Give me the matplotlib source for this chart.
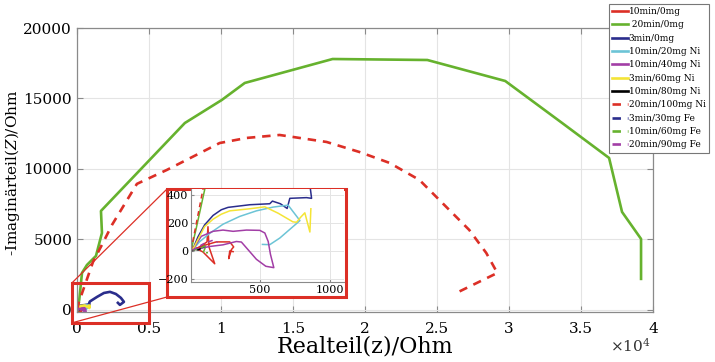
import matplotlib
matplotlib.use("Agg")
import matplotlib.pyplot as plt
from matplotlib.patches import Rectangle, ConnectionPatch
from matplotlib.ticker import FuncFormatter

plt.rcParams['font.family'] = ['DejaVu Serif']
plt.rcParams['mathtext.fontset'] = 'dejavuserif'

# ---------------- data (Ohm) ----------------
labels = ["10min/0mg", " 20min/0mg", "3min/0mg", "10min/20mg Ni", "10min/40mg Ni",
          "3min/60mg Ni", "10min/80mg Ni", "20min/100mg Ni", "3min/30mg Fe",
          "10min/60mg Fe", "20min/90mg Fe"]

red_x = [20, 71, 124, 131, 138, 179, 95, 48, 107, 190, 286, 314, 298, 279, 286, 310]
red_y = [4, 27, 63, 172, 27, -94, -9, 15, 39, 63, 63, 27, 8, -57, -2, -7]

green_x = [10, 45, 110, 160, 347, 693, 1317, 1733, 1664, 7490, 10050, 11650, 17750,
           24330, 29740, 33690, 36950, 37850, 39170, 39170]
green_y = [0, 150, 450, 750, 2624, 3190, 3830, 5460, 7020, 13260, 14890, 16100, 17800,
           17730, 16240, 13260, 10780, 6950, 5035, 2200]

blue_x = [20, 60, 107, 167, 226, 274, 429, 571, 590, 647, 695, 714, 833, 869, 852,
          900, 1390, 1870, 2290, 2700, 3050, 3260, 2980, 2840]
blue_y = [4, 100, 185, 253, 294, 311, 330, 337, 356, 337, 303, 376, 381, 376, 511,
          600, 920, 1200, 1280, 1130, 850, 570, 355, 500]

cyan_x = [20, 71, 143, 238, 357, 476, 595, 702, 786, 643, 571, 519]
cyan_y = [4, 64, 124, 190, 246, 286, 313, 327, 216, 91, 43, 45]

purple_x = [20, 83, 167, 238, 310, 405, 500, 536, 560, 576, 600, 543, 476, 369, 333,
            238, 143, 48]
purple_y = [4, 103, 139, 148, 139, 148, 146, 127, 66, -26, -122, -112, -62, 62, 66,
            42, 30, 11]

yellow_x = [20, 60, 107, 167, 226, 286, 429, 536, 631, 736, 762, 791, 821, 857, 864]
yellow_y = [4, 81, 173, 226, 262, 286, 301, 315, 269, 207, 204, 240, 272, 134, 301]

black_x = [15, 40, 60, 75]
black_y = [0, 10, 5, 12]

red_d_x = [10, 95, 1110, 1800, 2430, 4160, 6240, 9910, 11785, 14070, 17330, 19620,
           21700, 23780, 25650, 27240, 28420, 29190, 26340]
red_d_y = [0, 440, 3400, 4750, 6030, 8940, 9930, 11840, 12200, 12410, 11915, 11200,
           10430, 9220, 7300, 5670, 4040, 2620, 1200]

blue_d_x = [20, 60, 100, 125]
blue_d_y = [4, 15, 25, 45]

green_d_x = [20, 71, 119, 95, 131]
green_d_y = [4, 15, 39, -18, -14]

purple_d_x = [20, 100, 160, 200]
purple_d_y = [4, 50, 73, 60]

xticks = [0, 5000, 10000, 15000, 20000, 25000, 30000, 35000, 40000]
yticks = [0, 5000, 10000, 15000, 20000]
inset_xticks = [500, 1000]
inset_yticks = [-200, 0, 200, 400]

# ---------------- styles ----------------
C_RED = '#dc2f26'
C_GREEN = '#66b22e'
C_BLUE = '#2a2d8c'
C_CYAN = '#6cc4d6'
C_PURPLE = '#a23ea6'
C_YELLOW = '#f4e436'
C_BLACK = '#000000'
DASH = (0, (3.2, 2.6))

series = [
    (red_x, red_y, C_RED, '-'),
    (green_x, green_y, C_GREEN, '-'),
    (blue_x, blue_y, C_BLUE, '-'),
    (cyan_x, cyan_y, C_CYAN, '-'),
    (purple_x, purple_y, C_PURPLE, '-'),
    (yellow_x, yellow_y, C_YELLOW, '-'),
    (black_x, black_y, C_BLACK, '-'),
    (red_d_x, red_d_y, C_RED, DASH),
    (blue_d_x, blue_d_y, C_BLUE, DASH),
    (green_d_x, green_d_y, C_GREEN, DASH),
    (purple_d_x, purple_d_y, C_PURPLE, DASH),
]

fig = plt.figure(figsize=(7.15, 3.62), dpi=100)
ax = fig.add_axes([77/715, 50/362, 576/715, 284/362])

GRID = '#e4e4e4'
SPINE = '#8a8a8a'

handles = []
for (xs, ys, c, ls), lab in zip(series, labels):
    h, = ax.plot(xs, ys, color=c, ls=ls, lw=1.9, label=lab)
    handles.append(h)

ax.set_xlim(0, 40000)
ax.set_ylim(-150, 20000)
ax.set_xticks(xticks)
ax.set_yticks(yticks)
ax.xaxis.set_major_formatter(FuncFormatter(lambda v, p: ('%g' % (v / 1e4))))
ax.grid(True, color=GRID, lw=0.8)
ax.set_axisbelow(True)
ax.tick_params(direction='in', top=True, right=True, length=4, color=SPINE,
               labelsize=11, width=0.8)
ax.tick_params(axis='x', pad=7)
for s in ax.spines.values():
    s.set_color(SPINE)
    s.set_linewidth(0.9)

ax.set_xlabel('Realteil(z)/Ohm', fontsize=16, labelpad=0)
ax.set_ylabel('-Imaginärteil($Z$)/Ohm', fontsize=11)
ax.yaxis.set_label_coords(-0.095, 0.49)
fig.text(651/715, 1 - 346/362, r'$\times10^{4}$', ha='right', va='center',
         fontsize=11, color='#333333')

leg = ax.legend(handles=handles, loc='upper left',
                bbox_to_anchor=(609/715, 1 - 4/362), bbox_transform=fig.transFigure,
                fontsize=6.5, frameon=True, fancybox=False, framealpha=1,
                edgecolor='#777777', borderpad=0.35, labelspacing=0.48,
                handlelength=1.7, handletextpad=0.15, borderaxespad=0)
leg.get_frame().set_linewidth(0.8)
leg.set_zorder(10)

# zoom rectangle in main axes
rect = Rectangle((-350, -920), 5340, 2835, fill=False, edgecolor=C_RED, lw=2.2,
                 clip_on=False, zorder=6)
ax.add_patch(rect)

# inset frame (white with red border)
fx0, fy0, fw, fh = 167/715, 65/362, 179/715, 108/362
frame = Rectangle((fx0, fy0), fw, fh, transform=fig.transFigure, facecolor='white',
                  edgecolor=C_RED, lw=2.2, zorder=1)
fig.patches.append(frame)

for ya, yb in [(1915, fy0 + fh), (-920, fy0)]:
    con = ConnectionPatch(xyA=(-350, ya), coordsA=ax.transData,
                          xyB=(fx0, yb), coordsB=fig.transFigure,
                          color=C_RED, lw=0.9, zorder=7)
    fig.add_artist(con)

axin = fig.add_axes([191/715, 80/362, 153/715, 93/362])
axin.set_zorder(3)
for (xs, ys, c, ls) in series:
    axin.plot(xs, ys, color=c, ls=ls, lw=1.1)
axin.set_xlim(10, 1100)
axin.set_ylim(-225, 443)
axin.set_xticks(inset_xticks)
axin.set_yticks(inset_yticks)
axin.grid(True, color=GRID, lw=0.7)
axin.set_axisbelow(True)
axin.tick_params(direction='in', length=2.5, color=SPINE, labelsize=8, pad=2)
for s in axin.spines.values():
    s.set_color(SPINE)
    s.set_linewidth(0.8)
axin.spines['top'].set_visible(False)
axin.spines['right'].set_visible(False)

fig.savefig('out.png', dpi=100)
